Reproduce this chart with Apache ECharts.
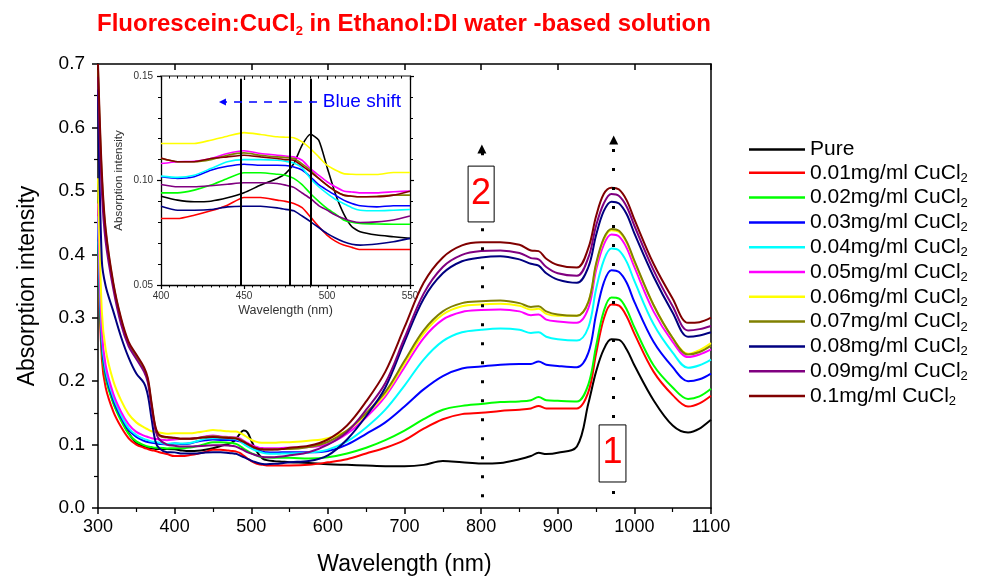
<!DOCTYPE html>
<html>
<head>
<meta charset="utf-8">
<title>Fluorescein:CuCl2 absorption</title>
<script src="https://cdn.jsdelivr.net/npm/echarts@6/dist/echarts.min.js"></script>
<style>
    html, body { margin: 0; padding: 0; background: #fff; }
    #main { width: 981px; height: 581px; }
</style>
</head>
<body>
<div id="main"></div>
<script type="text/javascript">
// wavelength (nm), shared by every curve
var wavelength = [300, 305, 310, 320, 330, 340, 350, 360, 365, 370, 375, 380, 390,
    400, 410, 420, 430, 440, 450, 460, 470, 475, 480, 485, 490, 495, 500, 505, 510, 515, 520, 530, 540, 550,
    575, 600, 625, 650, 675, 700, 725, 750, 775, 800, 825, 850, 865, 875, 885, 900, 925,
    940, 950, 960, 970, 980, 990, 1000, 1025, 1050, 1070, 1085, 1100];

// absorption
var pure = [0.43, 0.255, 0.208, 0.167, 0.14, 0.118, 0.103, 0.097, 0.095, 0.094, 0.093, 0.093, 0.093,
    0.0925, 0.0906, 0.0898, 0.0901, 0.0917, 0.0941, 0.0978, 0.101, 0.1033, 0.1081, 0.1169, 0.1221, 0.1193, 0.1065, 0.0938, 0.0842, 0.0779, 0.0755, 0.0739, 0.0731, 0.0723,
    0.071, 0.069, 0.068, 0.067, 0.066, 0.066, 0.068, 0.074, 0.072, 0.07, 0.071, 0.077, 0.082, 0.087, 0.085, 0.087, 0.097,
    0.165, 0.215, 0.25, 0.266, 0.265, 0.25, 0.225, 0.17, 0.13, 0.119, 0.125, 0.139];
var cu001 = [0.40, 0.235, 0.19, 0.152, 0.128, 0.11, 0.1, 0.095, 0.093, 0.091, 0.09, 0.088, 0.085,
    0.0818, 0.0818, 0.0834, 0.0855, 0.0882, 0.0919, 0.0919, 0.0906, 0.09, 0.089, 0.087, 0.0826, 0.078, 0.0739, 0.071, 0.0691, 0.068, 0.067, 0.067, 0.067, 0.067,
    0.068, 0.072, 0.077, 0.086, 0.095, 0.107, 0.125, 0.14, 0.148, 0.15, 0.153, 0.155, 0.157, 0.161, 0.157, 0.157, 0.157,
    0.183, 0.243, 0.298, 0.321, 0.319, 0.302, 0.275, 0.215, 0.178, 0.16, 0.165, 0.177];
var cu002 = [0.42, 0.25, 0.205, 0.165, 0.138, 0.117, 0.105, 0.099, 0.097, 0.096, 0.095, 0.095, 0.094,
    0.0941, 0.0941, 0.0954, 0.0978, 0.101, 0.1037, 0.1037, 0.103, 0.1025, 0.101, 0.098, 0.0938, 0.09, 0.0866, 0.084, 0.0811, 0.08, 0.0795, 0.0792, 0.0791, 0.0791,
    0.078, 0.08, 0.086, 0.095, 0.107, 0.122, 0.14, 0.155, 0.161, 0.164, 0.167, 0.168, 0.17, 0.175, 0.17, 0.169, 0.168,
    0.195, 0.255, 0.31, 0.332, 0.33, 0.313, 0.285, 0.225, 0.19, 0.172, 0.176, 0.188];
var cu003 = [0.44, 0.26, 0.212, 0.17, 0.143, 0.123, 0.112, 0.106, 0.104, 0.103, 0.102, 0.101, 0.1,
    0.1018, 0.101, 0.1018, 0.1049, 0.1068, 0.1078, 0.1073, 0.1073, 0.1072, 0.1065, 0.105, 0.1018, 0.098, 0.0954, 0.093, 0.0906, 0.089, 0.0879, 0.0874, 0.0879, 0.0879,
    0.088, 0.09, 0.1, 0.117, 0.135, 0.16, 0.187, 0.208, 0.22, 0.223, 0.226, 0.227, 0.227, 0.231, 0.226, 0.224, 0.222,
    0.245, 0.305, 0.355, 0.375, 0.372, 0.355, 0.325, 0.262, 0.222, 0.2, 0.203, 0.212];
var cu004 = [0.46, 0.27, 0.218, 0.175, 0.147, 0.126, 0.115, 0.109, 0.107, 0.105, 0.104, 0.103, 0.101,
    0.1021, 0.1015, 0.1025, 0.1057, 0.109, 0.11, 0.11, 0.1097, 0.1092, 0.1084, 0.106, 0.101, 0.097, 0.0938, 0.091, 0.089, 0.087, 0.0858, 0.0855, 0.0858, 0.0861,
    0.087, 0.092, 0.105, 0.127, 0.155, 0.193, 0.234, 0.263, 0.277, 0.281, 0.283, 0.281, 0.276, 0.277, 0.27, 0.266, 0.264,
    0.285, 0.345, 0.39, 0.409, 0.406, 0.388, 0.358, 0.29, 0.245, 0.221, 0.225, 0.234];
var cu005 = [0.48, 0.28, 0.225, 0.18, 0.152, 0.132, 0.12, 0.114, 0.112, 0.11, 0.109, 0.108, 0.107,
    0.1081, 0.109, 0.1092, 0.1105, 0.1129, 0.1142, 0.1129, 0.1121, 0.1117, 0.1113, 0.1097, 0.1057, 0.1025, 0.0994, 0.097, 0.095, 0.0945, 0.0941, 0.0941, 0.0946, 0.095,
    0.096, 0.101, 0.117, 0.143, 0.176, 0.222, 0.268, 0.297, 0.309, 0.312, 0.313, 0.31, 0.304, 0.305, 0.297, 0.294, 0.292,
    0.315, 0.375, 0.415, 0.431, 0.428, 0.41, 0.38, 0.31, 0.262, 0.238, 0.242, 0.25];
var cu006 = [0.52, 0.31, 0.25, 0.2, 0.17, 0.148, 0.135, 0.127, 0.124, 0.121, 0.12, 0.119, 0.117,
    0.1177, 0.1177, 0.1177, 0.1193, 0.1212, 0.1229, 0.122, 0.1209, 0.1207, 0.1205, 0.1185, 0.1153, 0.1113, 0.1073, 0.105, 0.1033, 0.103, 0.1029, 0.1029, 0.1038, 0.1038,
    0.106, 0.11, 0.122, 0.148, 0.18, 0.228, 0.275, 0.305, 0.318, 0.321, 0.322, 0.319, 0.313, 0.314, 0.306, 0.303, 0.303,
    0.325, 0.383, 0.423, 0.438, 0.435, 0.418, 0.388, 0.32, 0.268, 0.243, 0.249, 0.26];
var cu007 = [0.69, 0.52, 0.435, 0.352, 0.297, 0.259, 0.239, 0.219, 0.202, 0.162, 0.126, 0.114, 0.111,
    0.1105, 0.109, 0.109, 0.11, 0.1121, 0.1132, 0.1121, 0.1113, 0.111, 0.1105, 0.108, 0.1049, 0.101, 0.0978, 0.095, 0.093, 0.0925, 0.0922, 0.0925, 0.093, 0.093,
    0.096, 0.104, 0.122, 0.15, 0.183, 0.232, 0.28, 0.31, 0.323, 0.326, 0.327, 0.323, 0.317, 0.318, 0.31, 0.305, 0.303,
    0.325, 0.385, 0.425, 0.44, 0.437, 0.42, 0.39, 0.32, 0.268, 0.242, 0.246, 0.256];
var cu008 = [0.66, 0.39, 0.35, 0.31, 0.27, 0.237, 0.212, 0.197, 0.178, 0.14, 0.105, 0.094, 0.088,
    0.0877, 0.0858, 0.0858, 0.0861, 0.0874, 0.0877, 0.0877, 0.0869, 0.0862, 0.0855, 0.083, 0.0803, 0.0775, 0.0747, 0.0725, 0.0707, 0.0695, 0.0691, 0.0696, 0.0707, 0.0723,
    0.074, 0.083, 0.108, 0.145, 0.19, 0.262, 0.33, 0.37, 0.389, 0.395, 0.397, 0.392, 0.385, 0.382, 0.37, 0.36, 0.355,
    0.38, 0.43, 0.468, 0.483, 0.48, 0.463, 0.433, 0.365, 0.308, 0.27, 0.272, 0.277];
var cu009 = [0.68, 0.5, 0.42, 0.345, 0.29, 0.255, 0.235, 0.215, 0.198, 0.158, 0.122, 0.108, 0.1,
    0.0981, 0.097, 0.097, 0.0975, 0.0982, 0.0989, 0.0989, 0.0986, 0.0978, 0.0967, 0.094, 0.0914, 0.088, 0.0858, 0.0835, 0.0818, 0.0805, 0.0799, 0.0802, 0.0811, 0.083,
    0.088, 0.1, 0.12, 0.155, 0.197, 0.268, 0.338, 0.38, 0.399, 0.405, 0.406, 0.402, 0.394, 0.392, 0.38, 0.37, 0.366,
    0.395, 0.445, 0.48, 0.495, 0.492, 0.475, 0.445, 0.375, 0.318, 0.28, 0.282, 0.287];
var cu010 = [0.7, 0.53, 0.44, 0.355, 0.3, 0.262, 0.242, 0.222, 0.205, 0.165, 0.128, 0.115, 0.112,
    0.1108, 0.109, 0.109, 0.1105, 0.1113, 0.1121, 0.1113, 0.1105, 0.11, 0.1097, 0.107, 0.1041, 0.101, 0.0978, 0.095, 0.093, 0.0925, 0.0922, 0.0922, 0.093, 0.0949,
    0.098, 0.108, 0.13, 0.168, 0.215, 0.285, 0.355, 0.395, 0.414, 0.419, 0.419, 0.415, 0.406, 0.405, 0.393, 0.383, 0.379,
    0.41, 0.46, 0.495, 0.505, 0.502, 0.485, 0.455, 0.385, 0.33, 0.292, 0.293, 0.3];

var names = ['Pure', '0.01mg/ml CuCl2', '0.02mg/ml CuCl2', '0.03mg/ml CuCl2', '0.04mg/ml CuCl2',
    '0.05mg/ml CuCl2', '0.06mg/ml CuCl2', '0.07mg/ml CuCl2', '0.08mg/ml CuCl2', '0.09mg/ml CuCl2', '0.1mg/ml CuCl2'];
var curves = [pure, cu001, cu002, cu003, cu004, cu005, cu006, cu007, cu008, cu009, cu010];

// marker lines in the inset (nm) and the two peak arrows in the main plot (nm)
var insetPeaks = [448.2, 477.7, 490.2];
var arrowPos = [801, 973];

var colors = ['#000000', '#ff0000', '#00ff00', '#0000ff', '#00ffff', '#ff00ff',
    '#ffff00', '#808000', '#000080', '#800080', '#800000'];
var FONT = 'Liberation Sans, Arial, Helvetica, sans-serif';

function pairs(vals, lo, hi) {
    var out = [];
    for (var i = 0; i < wavelength.length; i++) {
        if (wavelength[i] >= lo && wavelength[i] <= hi) out.push([wavelength[i], vals[i]]);
    }
    return out;
}

var series = [];
// main plot
curves.forEach(function (vals, i) {
    series.push({
        name: names[i], type: 'line', xAxisIndex: 0, yAxisIndex: 0,
        data: pairs(vals, 300, 1100), symbol: 'none', smooth: 0.35,
        lineStyle: { color: colors[i], width: 2 }, itemStyle: { color: colors[i] }
    });
});
// inset, same data zoomed
curves.forEach(function (vals, i) {
    series.push({
        name: names[i], type: 'line', xAxisIndex: 2, yAxisIndex: 2,
        data: pairs(vals, 400, 550), symbol: 'none', smooth: 0.2,
        lineStyle: { color: colors[i], width: 1.6 }, itemStyle: { color: colors[i] }
    });
});

// dotted arrows + numbered boxes
series.push({
    type: 'line', xAxisIndex: 0, yAxisIndex: 0, data: [], symbol: 'none', silent: true,
    markLine: {
        silent: true, symbol: ['none', 'triangle'], symbolSize: 9,
        label: { show: false },
        lineStyle: { color: '#000', width: 3, type: [3, 16] },
        data: [
            [{ coord: [arrowPos[0], 0.017] }, { coord: [arrowPos[0], 0.566] }],
            [{ coord: [arrowPos[1], 0.022] }, { coord: [arrowPos[1], 0.58] }]
        ]
    },
    markArea: {
        silent: true, z: 6,
        itemStyle: { color: '#fff', borderColor: '#000', borderWidth: 1 },
        label: { show: true, position: 'inside', color: '#ff0000', fontSize: 36, fontFamily: FONT },
        data: [
            [{ name: '2', coord: [783, 0.539] }, { coord: [817, 0.451] }],
            [{ name: '1', coord: [954, 0.131] }, { coord: [989, 0.041] }]
        ]
    }
});
// inset peak lines
series.push({
    type: 'line', xAxisIndex: 2, yAxisIndex: 2, data: [], symbol: 'none', silent: true,
    markLine: {
        silent: true, symbol: ['none', 'none'], label: { show: false },
        lineStyle: { color: '#000', width: 2, type: 'solid' },
        data: insetPeaks.map(function (p) { return [{ coord: [p, 0.05] }, { coord: [p, 0.1487] }]; })
    }
});
// blue shift arrow
series.push({
    type: 'line', xAxisIndex: 2, yAxisIndex: 2, data: [], symbol: 'none', silent: true,
    markLine: {
        silent: true, symbol: ['none', 'triangle'], symbolSize: 7, label: { show: false },
        lineStyle: { color: '#0000ff', width: 1.5, type: [8, 7] },
        data: [[{ coord: [494, 0.1376] }, { coord: [437, 0.1376] }]]
    },
    markPoint: {
        silent: true, symbol: 'circle', symbolSize: 0,
        label: { show: true, position: 'right', distance: 0, formatter: 'Blue shift', color: '#0000ff', fontSize: 19, fontFamily: FONT },
        data: [{ coord: [497.5, 0.1376] }]
    }
});

var axisLine = { show: true, onZero: false, lineStyle: { color: '#000', width: 1.5 } };
function plain(v) { return String(v); }

var option = {
    animation: false,
    backgroundColor: '#fff',
    title: {
        text: '{t|Fluorescein:CuCl}{s|2}{t| in Ethanol:DI water -based solution}',
        left: 97, top: 10, padding: 0,
        textStyle: {
            rich: {
                t: { fontSize: 24, fontWeight: 'bold', color: '#ff0000', lineHeight: 28, fontFamily: FONT },
                s: { fontSize: 13, fontWeight: 'bold', color: '#ff0000', lineHeight: 5, verticalAlign: 'bottom', fontFamily: FONT }
            }
        }
    },
    legend: {
        data: names, orient: 'vertical', left: 749, top: 139, padding: 0,
        icon: 'rect', itemGap: 2.3, itemWidth: 56, itemHeight: 2.5,
        formatter: function (n) {
            return n === 'Pure' ? '{t|Pure}' : '{t|' + n.slice(0, -1) + '}{s|2}';
        },
        textStyle: {
            color: '#000',
            rich: {
                t: { fontSize: 21, lineHeight: 24, fontFamily: FONT, color: '#000' },
                s: { fontSize: 13, lineHeight: 4, verticalAlign: 'bottom', fontFamily: FONT, color: '#000' }
            }
        }
    },
    grid: [
        { left: 98, top: 64, width: 613, height: 449 },
        { left: 161, top: 76, width: 249, height: 209 }
    ],
    xAxis: [
        {
            type: 'value', gridIndex: 0, min: 300, max: 1100, interval: 100, position: 'bottom',
            axisLine: axisLine,
            axisTick: { show: true, length: 6, lineStyle: { color: '#000', width: 1.5 } },
            minorTick: { show: true, splitNumber: 2, length: 4, lineStyle: { color: '#000', width: 1.2 } },
            splitLine: { show: false },
            axisLabel: { fontSize: 18, color: '#000', margin: 10, fontFamily: FONT, formatter: plain },
            name: 'Wavelength (nm)', nameLocation: 'middle', nameGap: 45,
            nameTextStyle: { fontSize: 23, color: '#000', fontFamily: FONT }
        },
        {
            type: 'value', gridIndex: 0, min: 300, max: 1100, interval: 100, position: 'top',
            axisLine: axisLine,
            axisTick: { show: true, inside: true, length: 6, lineStyle: { color: '#000', width: 1.5 } },
            axisLabel: { show: false }, splitLine: { show: false }
        },
        {
            type: 'value', gridIndex: 1, min: 400, max: 550, interval: 50, position: 'bottom',
            axisLine: { show: true, onZero: false, lineStyle: { color: '#000', width: 1.3 } },
            axisTick: { show: true, length: 4, lineStyle: { color: '#000', width: 1.2 } },
            minorTick: { show: true, splitNumber: 10, length: 2.5, lineStyle: { color: '#000', width: 1 } },
            splitLine: { show: false },
            axisLabel: { fontSize: 10, color: '#333', margin: 6, fontFamily: FONT, formatter: plain },
            name: 'Wavelength (nm)', nameLocation: 'middle', nameGap: 19,
            nameTextStyle: { fontSize: 12.5, color: '#333', fontFamily: FONT }
        },
        {
            type: 'value', gridIndex: 1, min: 400, max: 550, interval: 50, position: 'top',
            axisLine: { show: true, onZero: false, lineStyle: { color: '#888', width: 2 } },
            axisTick: { show: true, inside: true, length: 4, lineStyle: { color: '#000', width: 1.2 } },
            minorTick: { show: true, splitNumber: 10, length: 2.5, lineStyle: { color: '#000', width: 1 } },
            axisLabel: { show: false }, splitLine: { show: false }
        }
    ],
    yAxis: [
        {
            type: 'value', gridIndex: 0, min: 0, max: 0.7, interval: 0.1, position: 'left',
            axisLine: axisLine,
            axisTick: { show: true, length: 6, lineStyle: { color: '#000', width: 1.5 } },
            minorTick: { show: true, splitNumber: 2, length: 4, lineStyle: { color: '#000', width: 1.2 } },
            splitLine: { show: false },
            axisLabel: { fontSize: 19, color: '#000', margin: 13, fontFamily: FONT, formatter: function (v) { return v.toFixed(1); } },
            name: 'Absorption intensity', nameLocation: 'middle', nameGap: 59,
            nameTextStyle: { fontSize: 23, color: '#000', fontFamily: FONT }
        },
        {
            type: 'value', gridIndex: 0, min: 0, max: 0.7, interval: 0.1, position: 'right',
            axisLine: axisLine, axisTick: { show: false }, axisLabel: { show: false }, splitLine: { show: false }
        },
        {
            type: 'value', gridIndex: 1, min: 0.05, max: 0.15, interval: 0.05, position: 'left',
            axisLine: { show: true, onZero: false, lineStyle: { color: '#000', width: 1.3 } },
            axisTick: { show: true, length: 4, lineStyle: { color: '#000', width: 1.2 } },
            minorTick: { show: true, splitNumber: 5, length: 3, lineStyle: { color: '#000', width: 1 } },
            splitLine: { show: false },
            axisLabel: { fontSize: 10, color: '#333', margin: 8, fontFamily: FONT, formatter: function (v) { return v.toFixed(2); } },
            name: 'Absorption intensity', nameLocation: 'middle', nameGap: 36,
            nameTextStyle: { fontSize: 11.5, color: '#333', fontFamily: FONT }
        },
        {
            type: 'value', gridIndex: 1, min: 0.05, max: 0.15, interval: 0.05, position: 'right',
            axisLine: { show: true, onZero: false, lineStyle: { color: '#000', width: 1.3 } },
            axisTick: { show: true, length: 4, lineStyle: { color: '#000', width: 1.2 } },
            minorTick: { show: true, splitNumber: 5, length: 3, lineStyle: { color: '#000', width: 1 } },
            axisLabel: { show: false }, splitLine: { show: false }
        }
    ],
    series: series
};

var myChart = echarts.init(document.getElementById('main'));
myChart.setOption(option);
</script>
</body>
</html>
